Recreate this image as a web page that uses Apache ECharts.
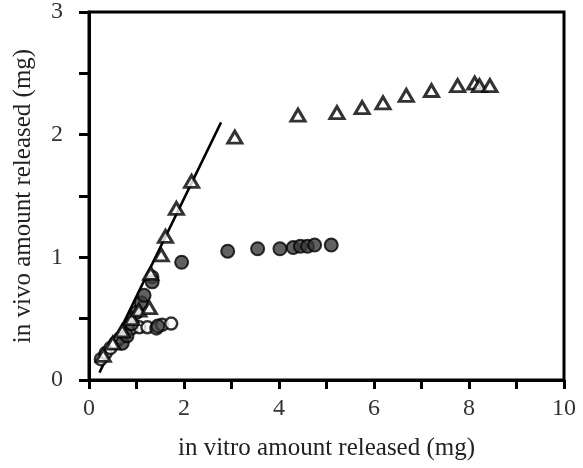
<!DOCTYPE html>
<html>
<head>
<meta charset="utf-8">
<script src="https://cdn.jsdelivr.net/npm/echarts@6/dist/echarts.min.js"></script>
<style>
  html, body { margin: 0; padding: 0; background: #fff; }
  #chart { width: 583px; height: 468px; }
</style>
</head>
<body>
<div id="chart"></div>
<script>
// Formulation A (open triangles): in vitro vs in vivo amount released (mg)
const triX = [0.30, 0.50, 0.70, 0.90, 1.05, 1.27, 1.30, 1.52, 1.61, 1.84, 2.16, 3.07, 4.40, 5.22, 5.75, 6.19, 6.68, 7.21, 7.76, 8.12, 8.22, 8.44];
const triY = [0.20, 0.30, 0.40, 0.50, 0.57, 0.59, 0.87, 1.02, 1.17, 1.40, 1.62, 1.98, 2.16, 2.18, 2.22, 2.26, 2.32, 2.36, 2.40, 2.42, 2.40, 2.40];

// Formulation B (filled circles)
const dotX = [0.70, 0.80, 0.90, 1.00, 1.10, 1.16, 1.33, 1.45, 1.95, 2.92, 3.55, 4.02, 4.30, 4.45, 4.60, 4.75, 5.10];
const dotY = [0.30, 0.36, 0.46, 0.55, 0.63, 0.69, 0.80, 0.44, 0.96, 1.05, 1.07, 1.07, 1.08, 1.09, 1.09, 1.10, 1.10];

// Formulation C (open circles)
const ringX = [0.25, 0.35, 0.45, 0.55, 0.65, 0.75, 0.90, 1.06, 1.23, 1.33, 1.42, 1.54, 1.73];
const ringY = [0.17, 0.22, 0.26, 0.30, 0.34, 0.38, 0.42, 0.43, 0.43, 0.84, 0.42, 0.45, 0.46];

// Linear correlation segment
const fitX = [0.22, 2.78];
const fitY = [0.06, 2.10];

// Labelled ticks (minor ticks stay unlabelled)
const xTicks = [0, 2, 4, 6, 8, 10];
const yTicks = [0, 1, 2, 3];

const pairs = (xs, ys) => xs.map((x, i) => [x, ys[i]]);

const chart = echarts.init(document.getElementById('chart'), null, { renderer: 'canvas' });
const serif = '"Liberation Serif", "DejaVu Serif", serif';

chart.setOption({
  animation: false,
  backgroundColor: '#fff',
  grid: {
    left: 89, right: 19, top: 11, bottom: 88,
    show: true, borderColor: '#000', borderWidth: 3, backgroundColor: 'transparent'
  },
  xAxis: {
    type: 'value', min: 0, max: 10, interval: 1,
    name: 'in vitro amount released (mg)',
    nameLocation: 'middle', nameGap: 56,
    nameTextStyle: { fontFamily: serif, fontSize: 25, color: '#222' },
    axisLine: { show: true, lineStyle: { color: '#000', width: 3 } },
    axisTick: { show: true, inside: false, length: 9, lineStyle: { color: '#000', width: 3 } },
    axisLabel: {
      fontFamily: serif, fontSize: 24, color: '#333', margin: 17,
      formatter: v => (xTicks.includes(v) ? String(v) : '')
    },
    splitLine: { show: false }
  },
  yAxis: {
    type: 'value', min: 0, max: 3, interval: 0.5,
    name: 'in vivo amount released (mg)',
    nameLocation: 'middle', nameGap: 53, nameRotate: 90,
    nameTextStyle: { fontFamily: serif, fontSize: 25, color: '#222' },
    axisLine: { show: true, lineStyle: { color: '#000', width: 3 } },
    axisTick: { show: true, inside: false, length: 10, lineStyle: { color: '#000', width: 3 } },
    axisLabel: {
      fontFamily: serif, fontSize: 24, color: '#333', margin: 26,
      formatter: v => (yTicks.includes(v) ? String(v) : '')
    },
    splitLine: { show: false }
  },
  series: [
    {
      type: 'line', data: pairs(fitX, fitY), symbol: 'none',
      lineStyle: { color: '#000', width: 2.5 }, z: 1
    },
    {
      type: 'scatter', data: pairs(ringX, ringY), symbol: 'circle', symbolSize: 12,
      itemStyle: { color: '#fff', borderColor: '#000', borderWidth: 2.5 }, z: 2
    },
    {
      type: 'scatter', data: pairs(dotX, dotY), symbol: 'circle', symbolSize: 13,
      itemStyle: { color: '#3a3a3a', borderColor: '#000', borderWidth: 2 }, z: 3
    },
    {
      type: 'scatter', data: pairs(triX, triY), symbol: 'triangle', symbolSize: [14, 12],
      itemStyle: { color: '#fff', borderColor: '#000', borderWidth: 3 }, z: 4
    }
  ]
});
</script>
</body>
</html>
